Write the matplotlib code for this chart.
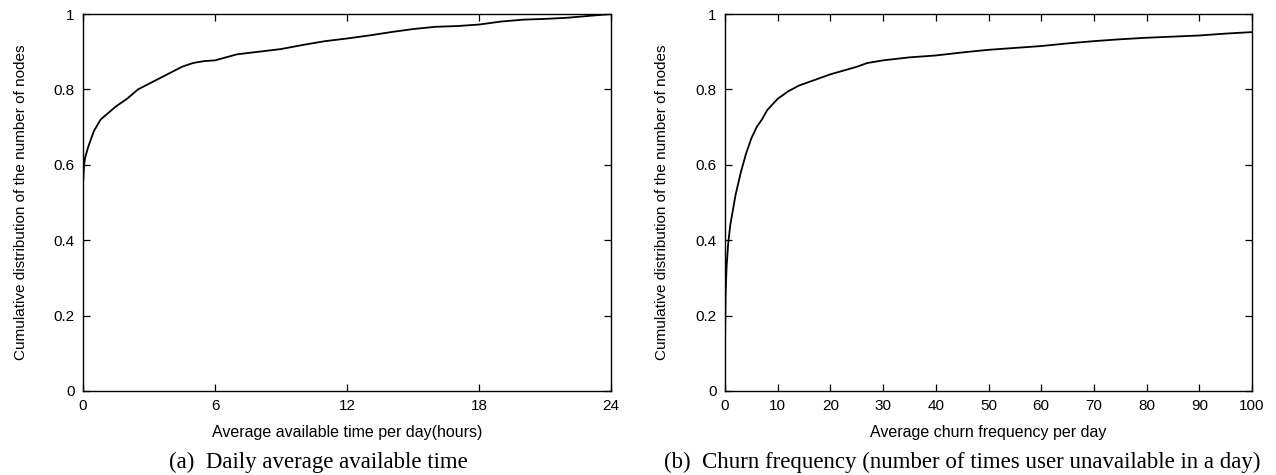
import matplotlib
matplotlib.use('Agg')
import matplotlib.pyplot as plt

# (a) daily average available time, CDF
avail_hours = [0, 0, 0.05, 0.1, 0.25, 0.5, 0.8, 1, 1.5, 2, 2.5, 3, 3.5, 4, 4.5, 5,
               5.5, 6, 6.5, 7, 8, 9, 10, 11, 12, 13, 14, 15, 16, 17, 18, 19,
               20, 21, 22, 23, 24]
avail_cdf = [0.35, 0.55, 0.60, 0.62, 0.65, 0.69, 0.72, 0.73, 0.755, 0.775, 0.80,
             0.815, 0.83, 0.845, 0.86, 0.87, 0.875, 0.877, 0.885, 0.893, 0.90,
             0.907, 0.918, 0.928, 0.935, 0.943, 0.952, 0.96, 0.966, 0.968, 0.972,
             0.98, 0.985, 0.987, 0.99, 0.995, 1.0]

# (b) churn frequency, CDF
churn_freq = [0, 0.1, 0.3, 0.6, 1, 2, 3, 4, 5, 6, 7, 8, 9, 10, 12, 14, 16, 18, 20,
              22, 25, 27, 30, 35, 40, 45, 50, 55, 60, 65, 70, 75, 80, 85, 90, 95, 100]
churn_cdf = [0.12, 0.25, 0.33, 0.39, 0.44, 0.52, 0.58, 0.63, 0.67, 0.70, 0.72,
             0.745, 0.76, 0.775, 0.795, 0.81, 0.82, 0.83, 0.84, 0.848, 0.86, 0.87,
             0.877, 0.885, 0.89, 0.898, 0.905, 0.91, 0.915, 0.922, 0.928, 0.933,
             0.937, 0.94, 0.943, 0.948, 0.952]

yticks = [0, 0.2, 0.4, 0.6, 0.8, 1]
ytick_labels = ['0', '0.2', '0.4', '0.6', '0.8', '1']
xticks_a = [0, 6, 12, 18, 24]
xticks_b = list(range(0, 101, 10))

W, H = 1276, 475
TOP, BOT = 14, 391
fig = plt.figure(figsize=(W / 100, H / 100), dpi=100)

SANS = 'Liberation Sans'
SERIF = 'Liberation Serif'
FS = 11


def panel(left, right, xs, ys, xticks, xlabel, caption, ylab_x, cap_x):
    ax = fig.add_axes([left / W, 1 - BOT / H, (right - left) / W, (BOT - TOP) / H])
    ax.plot(xs, ys, color='black', lw=1.3)
    ax.set_xlim(xticks[0], xticks[-1])
    ax.set_ylim(0, 1)
    ax.set_xticks(xticks)
    ax.set_xticklabels([str(t) for t in xticks], family=SANS, fontsize=FS)
    ax.set_yticks(yticks)
    ax.set_yticklabels(ytick_labels, family=SANS, fontsize=FS)
    ax.tick_params(direction='in', top=True, right=True, length=5, width=0.9, pad=6)
    for s in ax.spines.values():
        s.set_linewidth(1.0)
    ax.set_xlabel(xlabel, family=SANS, fontsize=11.5, va='center')
    ax.xaxis.set_label_coords(0.5, -(432 - BOT) / (BOT - TOP))
    ax.set_ylabel('Cumulative distribution of the number of nodes', family=SANS,
                  fontsize=FS, va='center')
    ax.yaxis.set_label_coords((ylab_x - left) / (right - left), 0.5)
    fig.text(cap_x / W, 1 - 462 / H, caption, family=SERIF,
             fontsize=16.5, ha='center', va='center')
    return ax


panel(83, 611, avail_hours, avail_cdf, xticks_a,
      'Average available time per day(hours)', '(a)  Daily average available time',
      21, 318)
panel(725, 1252, churn_freq, churn_cdf, xticks_b,
      'Average churn frequency per day',
      '(b)  Churn frequency (number of times user unavailable in a day)', 662, 962)

fig.savefig('out.png', dpi=100)
